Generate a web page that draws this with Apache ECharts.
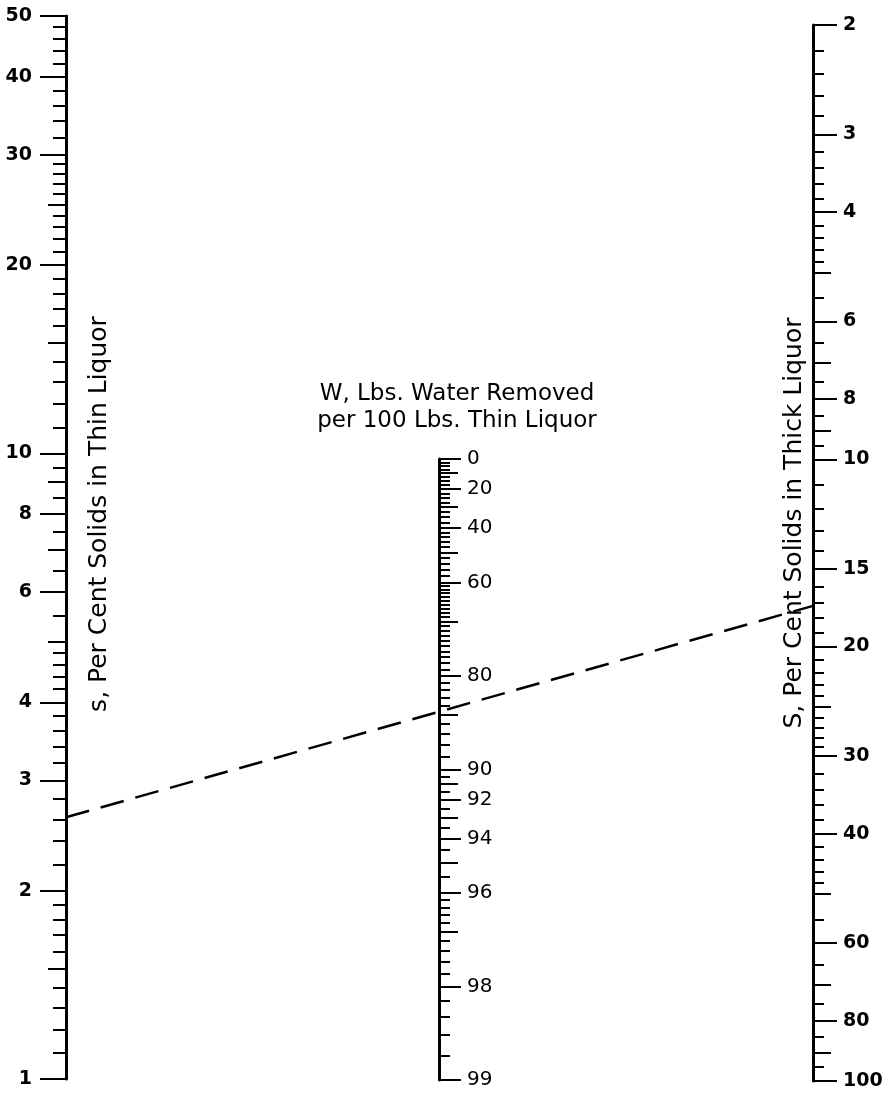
<!DOCTYPE html>
<html>
<head>
<meta charset="utf-8">
<title>Evaporation nomograph</title>
<script src="https://cdn.jsdelivr.net/npm/echarts@6/dist/echarts.min.js"></script>
<style>
  html, body { margin: 0; padding: 0; background: #fff; }
  #chart { width: 893px; height: 1096px; }
</style>
</head>
<body>
<div id="chart"></div>
<script>
// s, per cent solids in thin liquor (left scale)
const sMajor = [1, 2, 3, 4, 6, 8, 10, 20, 30, 40, 50];
const sMedium = [1.5, 5, 7, 9, 15, 25];
const sMinor = [1.1, 1.2, 1.3, 1.4, 1.6, 1.7, 1.8, 1.9, 2.2, 2.4, 2.6, 2.8, 3.2, 3.4, 3.6, 3.8,
  4.2, 4.4, 4.6, 4.8, 5.5, 6.5, 7.5, 8.5, 9.5, 11, 12, 13, 14, 16, 17, 18, 19,
  21, 22, 23, 24, 26, 27, 28, 29, 32, 34, 36, 38, 42, 44, 46, 48];

// W, lbs water removed per 100 lbs thin liquor (middle scale)
const wMajor = [0, 20, 40, 60, 80, 90, 92, 94, 96, 98, 99];
const wMedium = [10, 30, 50, 70, 85, 91, 93, 95, 97];
const wMinor = [2.5, 5, 7.5, 12.5, 15, 17.5, 22.5, 25, 27.5, 32.5, 35, 37.5,
  42, 44, 46, 48, 52, 54, 56, 58, 61, 62, 63, 64, 65, 66, 67, 68, 69,
  71, 72, 73, 74, 75, 76, 77, 78, 79, 81, 82, 83, 84, 86, 87, 88, 89,
  90.5, 91.5, 92.5, 93.5, 94.5, 95.5, 96.2, 96.4, 96.6, 96.8, 97.2, 97.4, 97.6, 97.8,
  98.2, 98.4, 98.6, 98.8];

// S, per cent solids in thick liquor (right scale)
const bigSMajor = [2, 3, 4, 6, 8, 10, 15, 20, 30, 40, 60, 80, 100];
const bigSMedium = [5, 7, 9, 25, 50, 70, 90];
const bigSMinor = [2.2, 2.4, 2.6, 2.8, 3.2, 3.4, 3.6, 3.8, 4.2, 4.4, 4.6, 4.8, 5.5, 6.5, 7.5, 8.5, 9.5,
  11, 12, 13, 14, 16, 17, 18, 19, 21, 22, 23, 24, 26, 27, 28, 29,
  32, 34, 36, 38, 42, 44, 46, 48, 55, 65, 75, 85, 95];

// example reading shown with the dashed line
const readS = 2.62;
const readBigS = 17.2;

const lg = v => Math.log10(v);
const lgW = w => Math.log10(100 - w);

const FONT = 'DejaVu Sans';

// one y axis = one tick class (major / medium / minor) of a scale
function scaleAxis(gridIndex, position, inverse, min, max, values, tickLen, withLabels, fmt, labelMargin, weight, size) {
  return {
    type: 'value',
    gridIndex: gridIndex,
    position: position,
    inverse: inverse,
    min: min,
    max: max,
    splitLine: { show: false },
    axisLine: { show: withLabels, onZero: false, lineStyle: { color: '#000', width: 3 } },
    axisTick: {
      show: true,
      inside: false,
      length: tickLen,
      customValues: values,
      lineStyle: { color: '#000', width: 2 }
    },
    axisLabel: {
      show: withLabels,
      customValues: values,
      margin: labelMargin,
      formatter: fmt,
      color: '#000',
      fontFamily: FONT,
      fontSize: size || 19,
      fontWeight: weight
    }
  };
}

const fmtLog = v => String(Math.round(Math.pow(10, v)));
const fmtW = v => String(Math.round(100 - Math.pow(10, v)));

const chart = echarts.init(document.getElementById('chart'), null, { renderer: 'canvas' });

const option = {
  animation: false,
  backgroundColor: '#fff',
  grid: [
    { left: 66, top: 16, width: 10, height: 1063, containLabel: false, outerBoundsMode: 'none' },
    { left: 429, top: 459, width: 10, height: 621, containLabel: false, outerBoundsMode: 'none' },
    { left: 803, top: 25, width: 10, height: 1056, containLabel: false, outerBoundsMode: 'none' },
    // overlay in page pixels, only for the dashed reading line
    { left: 0, top: 0, width: 893, height: 1096, containLabel: false, outerBoundsMode: 'none' }
  ],
  xAxis: [
    { type: 'value', gridIndex: 0, min: 0, max: 1, show: false },
    { type: 'value', gridIndex: 1, min: 0, max: 1, show: false },
    { type: 'value', gridIndex: 2, min: 0, max: 1, show: false },
    { type: 'value', gridIndex: 3, min: 0, max: 893, show: false }
  ],
  yAxis: [
    scaleAxis(0, 'left', false, lg(1), lg(50), sMajor.map(lg), 26, true, fmtLog, 34, 'bold'),
    scaleAxis(0, 'left', false, lg(1), lg(50), sMedium.map(lg), 18, false),
    scaleAxis(0, 'left', false, lg(1), lg(50), sMinor.map(lg), 13, false),

    scaleAxis(1, 'right', false, lgW(99), lgW(0), wMajor.map(lgW), 22, true, fmtW, 28, 'normal', 20),
    scaleAxis(1, 'right', false, lgW(99), lgW(0), wMedium.map(lgW), 19, false),
    scaleAxis(1, 'right', false, lgW(99), lgW(0), wMinor.map(lgW), 11, false),

    scaleAxis(2, 'right', true, lg(2), lg(100), bigSMajor.map(lg), 24, true, fmtLog, 30, 'bold'),
    scaleAxis(2, 'right', true, lg(2), lg(100), bigSMedium.map(lg), 18, false),
    scaleAxis(2, 'right', true, lg(2), lg(100), bigSMinor.map(lg), 11, false),

    { type: 'value', gridIndex: 3, min: 0, max: 1096, inverse: true, show: false }
  ],
  graphic: [
    {
      type: 'text', x: 99, y: 514, rotation: Math.PI / 2,
      style: {
        text: 's, Per Cent Solids in Thin Liquor',
        font: '25px "DejaVu Sans"', fill: '#000',
        textAlign: 'center', textVerticalAlign: 'middle'
      }
    },
    {
      type: 'text', x: 794, y: 523, rotation: Math.PI / 2,
      style: {
        text: 'S, Per Cent Solids in Thick Liquor',
        font: '25px "DejaVu Sans"', fill: '#000',
        textAlign: 'center', textVerticalAlign: 'middle'
      }
    },
    {
      type: 'text', x: 457, y: 408,
      style: {
        text: 'W, Lbs. Water Removed\nper 100 Lbs. Thin Liquor',
        font: '23px "DejaVu Sans"', fill: '#000', lineHeight: 27,
        textAlign: 'center', textVerticalAlign: 'middle'
      }
    }
  ],
  series: [
    {
      id: 'reading',
      type: 'line',
      xAxisIndex: 3,
      yAxisIndex: 9,
      symbol: 'none',
      silent: true,
      lineStyle: { color: '#000', width: 2.5, type: [24, 12] },
      data: []
    }
  ]
};

chart.setOption(option);

// ends of the reading line: s on the left scale, S on the right scale
const pLeft = chart.convertToPixel({ xAxisIndex: 0, yAxisIndex: 0 }, [0, lg(readS)]);
const pRight = chart.convertToPixel({ xAxisIndex: 2, yAxisIndex: 6 }, [1, lg(readBigS)]);
const a = chart.convertFromPixel({ xAxisIndex: 3, yAxisIndex: 9 }, pLeft);
const b = chart.convertFromPixel({ xAxisIndex: 3, yAxisIndex: 9 }, pRight);
chart.setOption({ series: [{ id: 'reading', data: [a, b] }] });
</script>
</body>
</html>
